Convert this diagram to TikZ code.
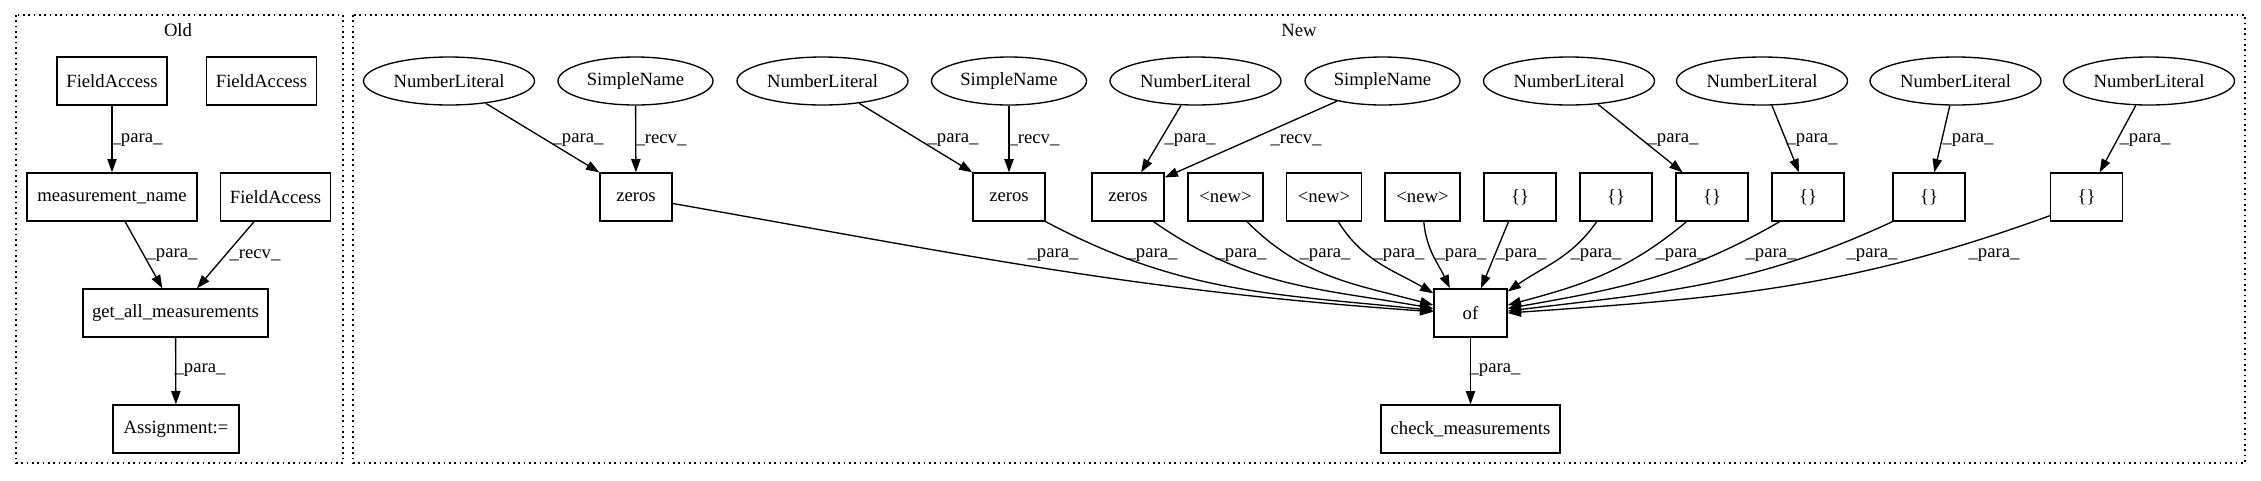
\documentclass[tikz,border=0pt]{standalone}
\usepackage{fontspec}
\setmainfont{Liberation Serif}
\usetikzlibrary{arrows.meta,shapes.geometric}
\begin{document}
\begin{tikzpicture}[x=0.75pt,y=-0.75pt,
  every node/.style={font=\fontsize{14}{16}\selectfont, inner sep=0pt},
  box/.style={draw, line width=1pt, rectangle, minimum height=36pt},
  oval/.style={draw, line width=1pt, ellipse, minimum height=36pt, minimum width=128.25pt},
  sname/.style={oval, minimum width=116.25pt},
  zbox/.style={box, minimum width=54pt},
  nbox/.style={box, minimum width=56.25pt},
  edge/.style={line width=1pt, -{Triangle[length=10pt,width=7pt]}},
  lbl/.style={font=\fontsize{14}{16}\selectfont},
  cluster/.style={line width=1pt, dash pattern=on 1.2pt off 2.8pt}]
\useasboundingbox (0,0) rectangle (2261,480);

% clusters
\draw[cluster] (16,15) rectangle (343,463);
\draw[cluster] (353,15) rectangle (2245,463);
\node (oldt) at (178,30) {Old};
\node (newt) at (1299,30) {New};

% Old
\node[box, minimum width=82.5pt] (fa1) at (112,81) {FieldAccess};
\node[box, minimum width=82.5pt] (fa2) at (261.5,81) {FieldAccess};
\node[box, minimum width=127.5pt] (mn) at (112,197) {measurement\_name};
\node[box, minimum width=82.5pt] (fa3) at (275.5,197) {FieldAccess};
\node[box, minimum width=138.75pt] (gam) at (175.5,313) {get\_all\_measurements};
\node[box, minimum width=94.5pt] (asg) at (176,429) {Assignment:=};

\draw[edge] (fa1) -- (mn) node[lbl] at (137,140) {\_para\_};
\draw[edge] (mn.-62) -- (gam.118) node[lbl] at (172,255) {\_para\_};
\draw[edge] (fa3.-131) -- (gam.49) node[lbl] at (255,255) {\_recv\_};
\draw[edge] (gam) -- (asg) node[lbl] at (200,370) {\_para\_};

% New: top row
\node[oval] (nl1) at (449,81) {NumberLiteral};
\node[sname] (sn1) at (635.5,81) {SimpleName};
\node[oval] (nl2) at (822.5,81) {NumberLiteral};
\node[sname] (sn2) at (1009,81) {SimpleName};
\node[oval] (nl3) at (1195.5,81) {NumberLiteral};
\node[sname] (sn3) at (1382.5,81) {SimpleName};
\node[oval] (nl4) at (1569,81) {NumberLiteral};
\node[oval] (nl5) at (1762,81) {NumberLiteral};
\node[oval] (nl6) at (1955.5,81) {NumberLiteral};
\node[oval] (nl7) at (2149,81) {NumberLiteral};

% middle row
\node[zbox] (z1) at (636,197) {zeros};
\node[zbox] (z2) at (1009,197) {zeros};
\node[zbox] (z3) at (1128,197) {zeros};
\node[nbox] (n1) at (1225.5,197) {<new>};
\node[nbox] (n2) at (1324,197) {<new>};
\node[nbox] (n3) at (1422.5,197) {<new>};
\node[zbox] (b1) at (1520,197) {\{\}};
\node[zbox] (b2) at (1616,197) {\{\}};
\node[zbox] (b3) at (1712,197) {\{\}};
\node[zbox] (b4) at (1808,197) {\{\}};
\node[zbox] (b5) at (1929,197) {\{\}};
\node[zbox] (b6) at (2086.5,197) {\{\}};

% bottom
\node[box, minimum width=54.75pt] (of) at (1470.5,313) {of};
\node[box, minimum width=134.25pt] (chk) at (1470.5,429) {check\_measurements};

% top edges
\draw[edge] (nl1) -- (z1.north west) node[lbl] at (578,140) {\_para\_};
\draw[edge] (sn1) -- (z1) node[lbl] at (661,140) {\_recv\_};
\draw[edge] (nl2) -- (z2.north west) node[lbl] at (953,140) {\_para\_};
\draw[edge] (sn2) -- (z2) node[lbl] at (1034,140) {\_recv\_};
\draw[edge] (nl3) -- (z3.62) node[lbl] at (1190,140) {\_para\_};
\draw[edge] (sn3) -- (z3.28) node[lbl] at (1296,140) {\_recv\_};
\draw[edge] (nl4) -- (b3.140) node[lbl] at (1673,140) {\_para\_};
\draw[edge] (nl5) -- (b4.110) node[lbl] at (1812,140) {\_para\_};
\draw[edge] (nl6) -- (b5.78) node[lbl] at (1968,140) {\_para\_};
\draw[edge] (nl7) -- (b6.62) node[lbl] at (2145,140) {\_para\_};

% edges into of
\draw[edge] (z1.-10) to[out=-10,in=176] (of.178) node[lbl] at (1053,255) {\_para\_};
\draw[edge] (z2.south east) to[out=-28,in=174] (of.176) node[lbl] at (1152,255) {\_para\_};
\draw[edge] (z3.-44) to[out=-35,in=170] (of.173) node[lbl] at (1241,255) {\_para\_};
\draw[edge] (n1.-49) to[out=-45,in=165] (of.168) node[lbl] at (1325,255) {\_para\_};
\draw[edge] (n2.-60) to[out=-58,in=150] (of.152) node[lbl] at (1399,255) {\_para\_};
\draw[edge] (n3.-87) to[out=-85,in=115] (of.130) node[lbl] at (1461,255) {\_para\_};
\draw[edge] (b1.-115) -- (of.67) node[lbl] at (1521,255) {\_para\_};
\draw[edge] (b2.-128) to[out=-125,in=35] (of.30) node[lbl] at (1596,255) {\_para\_};
\draw[edge] (b3.-136) to[out=-140,in=15] (of.12) node[lbl] at (1681,255) {\_para\_};
\draw[edge] (b4.-139) to[out=-150,in=10] (of.7) node[lbl] at (1771,255) {\_para\_};
\draw[edge] (b5.south west) to[out=-155,in=7] (of.3) node[lbl] at (1872,255) {\_para\_};
\draw[edge] (b6.-153) to[out=-160,in=4] (of.0) node[lbl] at (1994,255) {\_para\_};

\draw[edge] (of) -- (chk) node[lbl] at (1495,370) {\_para\_};
\end{tikzpicture}
\end{document}
